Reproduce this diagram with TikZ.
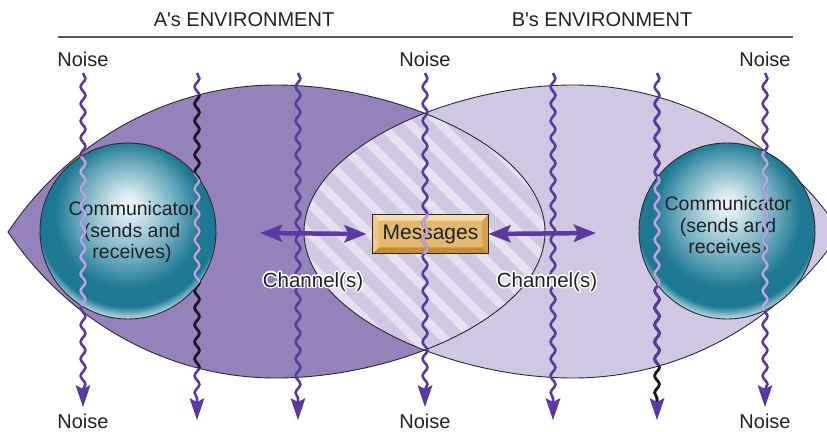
\documentclass[tikz,border=0pt]{standalone}
\usepackage{fontspec}
\setmainfont{Liberation Sans}
\usetikzlibrary{decorations.pathmorphing,arrows.meta,calc}
\definecolor{lensdark}{HTML}{9682BB}
\definecolor{lenslight}{HTML}{D0C7E3}
\definecolor{stripecol}{HTML}{E6E1F0}
\definecolor{wavecol}{HTML}{5A3A9E}
\definecolor{wavelite}{HTML}{B9A7DB}
\definecolor{outl}{HTML}{2B2B2B}
\definecolor{txt}{HTML}{222222}
\definecolor{sphA}{HTML}{F0F7F9}
\definecolor{sphAA}{HTML}{DCECF1}
\definecolor{sphB}{HTML}{6BAABD}
\definecolor{sphC}{HTML}{1D7893}
\definecolor{sphD}{HTML}{A9D1DC}
\definecolor{goldface}{HTML}{E3B870}
\definecolor{goldtop}{HTML}{F5DEAD}
\definecolor{goldleft}{HTML}{EDCA8B}
\definecolor{goldright}{HTML}{D6A24C}
\definecolor{goldbot}{HTML}{C68E31}
\definecolor{rulecol}{HTML}{5A5A5A}
\pgfdeclareradialshading{sphereshade}{\pgfpoint{0bp}{8bp}}{color(0bp)=(sphA); color(3bp)=(sphAA); color(14bp)=(sphB); color(21bp)=(sphC); color(25.5bp)=(sphC); color(28bp)=(sphD); color(50bp)=(sphD)}
\def\lensLpath{(8,232) .. controls (70,140) and (170,85) .. (276,85) .. controls (400,85) and (545,150) .. (545,232) .. controls (545,314) and (400,378) .. (276,378) .. controls (170,378) and (70,324) .. (8,232) -- cycle}
\def\lensRpath{(841,232) .. controls (779,140) and (679,85) .. (573,85) .. controls (449,85) and (304,150) .. (304,232) .. controls (304,314) and (449,378) .. (573,378) .. controls (679,378) and (779,324) .. (841,232) -- cycle}
\begin{document}
\begin{tikzpicture}[x=1pt,y=-1pt,
  wave/.style={draw=wavecol, line width=2.6pt, decorate, decoration={snake, segment length=17pt, amplitude=2.4pt}},
  lbl/.style={font=\fontsize{20}{24}\selectfont, text=txt, inner sep=0pt},
  chlbl/.style={font=\fontsize{20.5}{24}\selectfont, inner sep=0pt},
  dbl/.style={draw=wavecol, line width=4.5pt, arrows={Stealth[length=22pt,width=17pt,inset=4pt]-Stealth[length=22pt,width=17pt,inset=4pt]}},
  lensline/.style={draw=outl, line width=0.9pt},
  sphere/.style={circle, minimum size=176pt, inner sep=0pt, shade, shading=sphereshade, draw=outl, line width=0.9pt},
  sphtxt/.style={font=\fontsize{19.5}{21.5}\selectfont, text=txt, align=center, inner sep=0pt},
  msgbox/.style={draw=outl, line width=0.9pt, fill=goldface, minimum width=115pt, minimum height=38pt, inner sep=0pt, font=\fontsize{21}{24}\selectfont, text=txt}
]
\useasboundingbox (0,0) rectangle (827,431);
% environments
\fill[lenslight] \lensRpath;
\fill[lensdark] \lensLpath;
\begin{scope}
  \clip \lensLpath;
  \clip \lensRpath;
  \fill[lenslight] (290,100) rectangle (560,370);
  \foreach \k in {-30,0,...,600} { \fill[stripecol] (\k,80) -- ++(12,0) -- ++(300,300) -- ++(-12,0) -- cycle; }
\end{scope}
\path[lensline] \lensLpath;
\path[lensline] \lensRpath;
% communicators
\node[sphere] (sphL) at (128,231) {};
\node[sphere] (sphR) at (727,231) {};
\node[sphtxt] (txtL) at (132,232) {Communicator\\(sends and\\receives)};
\node[sphtxt] (txtR) at (728,227) {Communicator\\(sends and\\receives)};
% messages
\node[msgbox] (msg) at (430.5,234) {Messages};
\fill[goldtop] (msg.north west) -- (msg.north east) -- ([shift={(-6,6)}]msg.north east) -- ([shift={(6,6)}]msg.north west) -- cycle;
\fill[goldbot] (msg.south west) -- (msg.south east) -- ([shift={(-6,-6)}]msg.south east) -- ([shift={(6,-6)}]msg.south west) -- cycle;
\fill[goldleft] (msg.north west) -- ([shift={(6,6)}]msg.north west) -- ([shift={(6,-6)}]msg.south west) -- (msg.south west) -- cycle;
\fill[goldright] (msg.north east) -- ([shift={(-6,6)}]msg.north east) -- ([shift={(-6,-6)}]msg.south east) -- (msg.south east) -- cycle;
\draw[outl, line width=0.9pt] (msg.north west) rectangle (msg.south east);
% noise lines
\foreach \n/\x/\t in {1/83/407,2/197/420,3/298/420,4/425/407,5/553/420,6/657/420,7/765/407}{
  \coordinate (wt\n) at (\x,73);
  \coordinate (wb\n) at (\x,\t);
}
\foreach \n in {1,...,7}{ \draw[wave] (wt\n) -- ($(wb\n)+(0,-16)$); }
\begin{scope}
  \clip \lensLpath;
  \draw[wave, draw=black!90] (wt2) -- ($(wb2)+(0,-16)$);
\end{scope}
\begin{scope}
  \clip (640,300) rectangle (675,402);
  \draw[wave, draw=black!90] (wt6) -- ($(wb6)+(0,-16)$);
\end{scope}
\begin{scope}
  \clip \lensRpath;
  \draw[wave] (wt6) -- ($(wb6)+(0,-16)$);
\end{scope}
\begin{scope}
  \clip (sphL.center) circle (88);
  \draw[wave, draw=wavelite] (wt1) -- ($(wb1)+(0,-16)$);
  \draw[wave, draw=wavelite] (wt2) -- ($(wb2)+(0,-16)$);
\end{scope}
\begin{scope}
  \clip (sphR.center) circle (88);
  \draw[wave, draw=wavelite] (wt6) -- ($(wb6)+(0,-16)$);
  \draw[wave, draw=wavelite] (wt7) -- ($(wb7)+(0,-16)$);
\end{scope}
\begin{scope}
  \clip (msg.north west) rectangle (msg.south east);
  \draw[wave, draw=wavelite] (wt4) -- ($(wb4)+(0,-16)$);
\end{scope}
\foreach \n in {1,...,7}{ \fill[wavecol] (wb\n) -- ++(7.5,-22) -- ++(-7.5,4) -- ++(-7.5,-4) -- cycle; }
% channels
\coordinate (chLend) at (260,233);
\coordinate (chRend) at (596,233);
\draw[dbl] ([xshift=-6pt]msg.west) -- (chLend);
\draw[dbl] (msg.east) -- (chRend);
\foreach \a in {0,22.5,...,337.5}{
  \node[chlbl, text=white] (hl\a) at ($(313,282)+(\a:1.4pt)$) {Channel(s)};
  \node[chlbl, text=white] (hr\a) at ($(547,282)+(\a:1.4pt)$) {Channel(s)};
}
\node[chlbl, text=txt] (chanL) at (313,282) {Channel(s)};
\node[chlbl, text=txt] (chanR) at (547,282) {Channel(s)};
% labels
\node[lbl] (nt1) at (83,59) {Noise};
\node[lbl] (nt2) at (425,59) {Noise};
\node[lbl] (nt3) at (765,59) {Noise};
\node[lbl] (nb1) at (83,421) {Noise};
\node[lbl] (nb2) at (425,421) {Noise};
\node[lbl] (nb3) at (765,421) {Noise};
\node[lbl] (hA) at (244,20) {A\textquotesingle s ENVIRONMENT};
\node[lbl] (hB) at (602,20) {B\textquotesingle s ENVIRONMENT};
\coordinate (ruleL) at (58,37);
\coordinate (ruleR) at (793,37);
\draw[rulecol, line width=1.5pt] (ruleL) -- (ruleR);
\end{tikzpicture}
\end{document}
